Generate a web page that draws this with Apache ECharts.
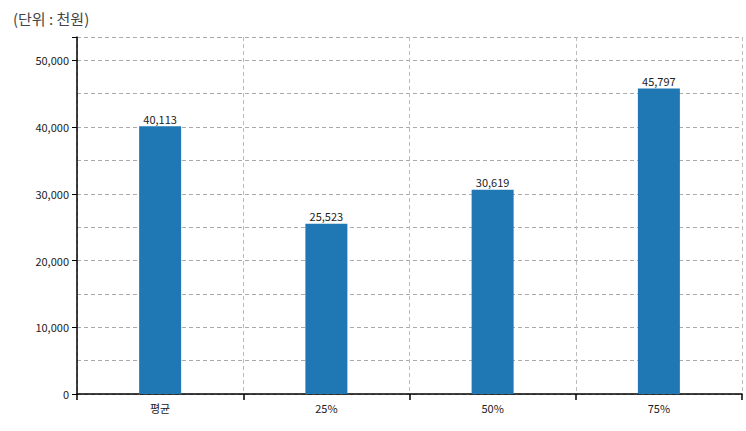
<!DOCTYPE html>
<html><head><meta charset="utf-8">
<script src="https://cdn.jsdelivr.net/npm/echarts@6/dist/echarts.min.js"></script>
<style>html,body{margin:0;padding:0;background:#fff}#c{width:746px;height:431px}</style>
</head><body><div id="c"></div>
<script>
var categories = ['평균', '25%', '50%', '75%'];
var values = [40113, 25523, 30619, 45797];

var chart = echarts.init(document.getElementById('c'), null, { renderer: 'svg' });
var font = '"Noto Sans CJK KR", "Noto Sans", sans-serif';
chart.setOption({
  animation: false,
  title: { text: '(단위 : 천원)', left: 8, top: 6, textStyle: { fontFamily: font, fontSize: 15, fontWeight: 'normal', color: '#444' } },
  grid: { left: 77, right: 4, top: 37, bottom: 37 },
  xAxis: {
    type: 'category', data: categories,
    axisLine: { lineStyle: { color: '#000', width: 1.5 } },
    axisTick: { show: true, length: 6, lineStyle: { color: '#000', width: 1.5 } },
    axisLabel: { color: '#222', fontSize: 11, fontFamily: font, margin: 8 },
    splitLine: { show: true, lineStyle: { color: '#bbb', type: [4, 3] } }
  },
  yAxis: {
    type: 'value', min: 0, max: 53500, interval: 10000,
    axisLine: { show: true, lineStyle: { color: '#000', width: 1.5 } },
    axisTick: { show: true, length: 5, lineStyle: { color: '#000' } },
    axisLabel: { color: '#222', fontSize: 11, fontFamily: font,
      formatter: function (v) { return v % 10000 === 0 ? v.toLocaleString('en-US') : ''; } },
    splitLine: { show: true, lineStyle: { color: '#aaa', type: [4, 3] } },
    minorTick: { show: false, splitNumber: 2 },
    minorSplitLine: { show: true, lineStyle: { color: '#aaa', type: [4, 3] } }
  },
  series: [{
    type: 'bar', data: values, barWidth: 42,
    itemStyle: { color: '#1f77b4' },
    label: { show: true, position: 'top', distance: 2, color: '#222', fontSize: 11, fontFamily: font,
      formatter: function (p) { return p.value.toLocaleString('en-US'); } }
  }]
});
</script></body></html>
